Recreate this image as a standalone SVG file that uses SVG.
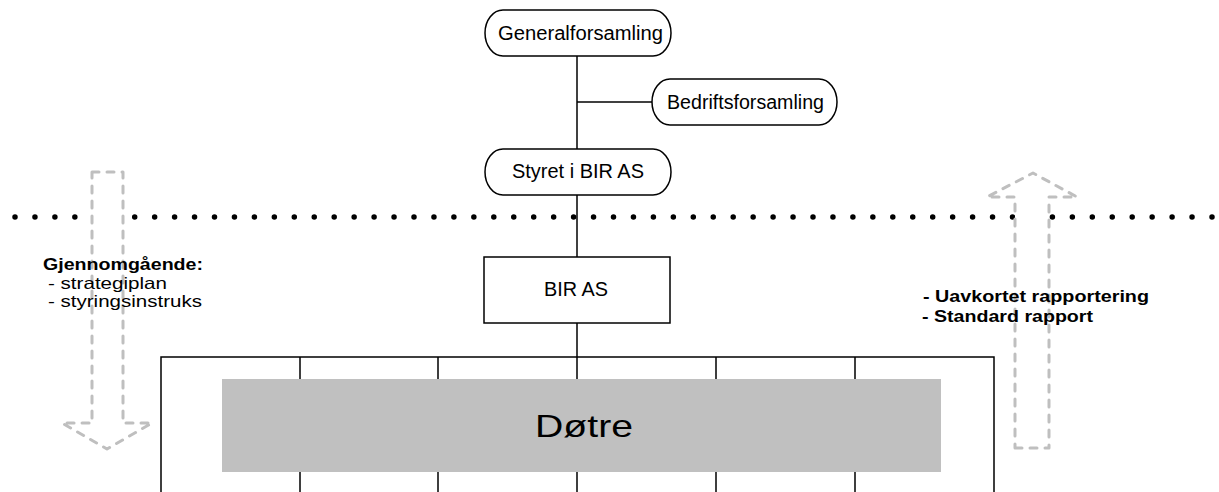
<svg xmlns="http://www.w3.org/2000/svg" width="1219" height="492" viewBox="0 0 1219 492">
<style>
.box{fill:#fff;stroke:#000;stroke-width:1.5}
.ln{stroke:#000;stroke-width:1.5;fill:none}
.t{font-family:"Liberation Sans",Arial,sans-serif;font-size:19.5px;fill:#000}
.b{font-family:"Liberation Sans",Arial,sans-serif;font-size:16.5px;font-weight:bold;fill:#000}
.r{font-family:"Liberation Sans",Arial,sans-serif;font-size:16.5px;fill:#000}
.arr{fill:#fff;stroke:#BFBFBF;stroke-width:3;stroke-dasharray:7 8;stroke-linecap:round;stroke-linejoin:round}
</style>
<rect width="1219" height="492" fill="#fff"/>
<line x1="15" y1="217" x2="1216" y2="217" stroke="#000" stroke-width="5.5" stroke-linecap="round" stroke-dasharray="0 19.95"/>
<g id="arrow-down">
<path class="arr" d="M92,172 L123,172 L123,423 L152,423 L107,449 L62,423 L92,423 Z"/>
</g>
<g id="arrow-up">
<path class="arr" d="M1015,448 L1049,448 L1049,197 L1077,197 L1033,173 L987,197 L1015,197 Z"/>
</g>
<g id="connectors">
<line class="ln" x1="577" y1="56" x2="577" y2="149"/>
<line class="ln" x1="577" y1="102" x2="652" y2="102"/>
<line class="ln" x1="577" y1="195" x2="577" y2="257"/>
<line class="ln" x1="577" y1="323" x2="577" y2="357"/>
</g>
<g id="generalforsamling">
<rect class="box" x="485" y="10" width="186" height="46" rx="18" ry="23"/>
<text class="t" x="498" y="40" textLength="165" lengthAdjust="spacingAndGlyphs">Generalforsamling</text>
</g>
<g id="bedriftsforsamling">
<rect class="box" x="652" y="79" width="185" height="46" rx="18" ry="23"/>
<text class="t" x="667" y="109" textLength="157" lengthAdjust="spacingAndGlyphs">Bedriftsforsamling</text>
</g>
<g id="styret">
<rect class="box" x="485" y="149" width="186" height="46" rx="18" ry="23"/>
<text class="t" x="512" y="178" textLength="132" lengthAdjust="spacingAndGlyphs">Styret i BIR AS</text>
</g>
<g id="bir-as">
<rect class="box" x="484" y="257" width="186" height="66"/>
<text class="t" x="544" y="296" textLength="64" lengthAdjust="spacingAndGlyphs">BIR AS</text>
</g>
<g id="dotre">
<path class="ln" d="M161,492 L161,357 L994,357 L994,492"/>
<path class="ln" d="M300,357 V492 M438,357 V492 M577,357 V492 M716,357 V492 M855,357 V492"/>
<rect x="222" y="379" width="719" height="93" fill="#C0C0C0"/>
<text x="535" y="437" font-family="Liberation Sans, Arial, sans-serif" font-size="32" textLength="98" lengthAdjust="spacingAndGlyphs">Døtre</text>
</g>
<g id="left-text">
<text class="b" x="43" y="270" textLength="160" lengthAdjust="spacingAndGlyphs">Gjennomgående:</text>
<text class="r" x="48" y="289" textLength="119" lengthAdjust="spacingAndGlyphs">- strategiplan</text>
<text class="r" x="48" y="307" textLength="154" lengthAdjust="spacingAndGlyphs">- styringsinstruks</text>
</g>
<g id="right-text">
<text class="b" x="923" y="302" textLength="226" lengthAdjust="spacingAndGlyphs">- Uavkortet rapportering</text>
<text class="b" x="922" y="322" textLength="171" lengthAdjust="spacingAndGlyphs">- Standard rapport</text>
</g>
</svg>
